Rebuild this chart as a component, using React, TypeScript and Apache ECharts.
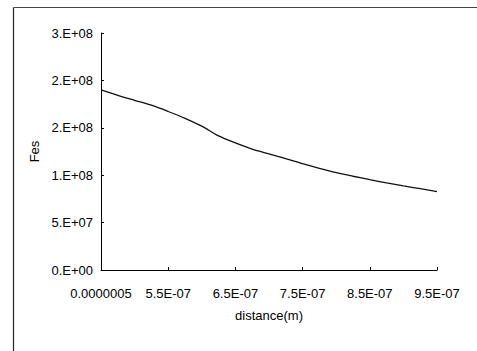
import React, { useEffect, useRef } from "react";
import * as echarts from "echarts";

const xTickLabels = ["0.0000005", "5.5E-07", "6.5E-07", "7.5E-07", "8.5E-07", "9.5E-07"];
const yTickLabels = ["0.E+00", "5.E+07", "1.E+08", "2.E+08", "2.E+08", "3.E+08"];
const yTickValues = [0, 5e7, 1e8, 1.5e8, 2e8, 2.5e8];
// Fes values sampled at 4 points per labelled interval
const fesValues = [
  1.90e8, 1.843e8, 1.79e8, 1.738e8, 1.672e8, 1.60e8, 1.517e8, 1.414e8, 1.341e8,
  1.275e8, 1.225e8, 1.176e8, 1.121e8, 1.072e8, 1.027e8, 0.989e8, 0.953e8,
  0.919e8, 0.887e8, 0.858e8, 0.826e8,
];
const pointsPerInterval = 4;

export default function App() {
  const ref = useRef<HTMLDivElement>(null);
  useEffect(() => {
    if (!ref.current) return;
    const chart = echarts.init(ref.current, undefined, { renderer: "svg" });
    const font = "Liberation Sans, Arial, sans-serif";
    const maxX = (xTickLabels.length - 1) * pointsPerInterval;
    chart.setOption({
      animation: false,
      backgroundColor: "#ffffff",
      grid: { left: 101, top: 33, right: 40, bottom: 81, containLabel: false },
      xAxis: {
        type: "value",
        min: 0,
        max: maxX,
        interval: pointsPerInterval,
        name: "distance(m)",
        nameLocation: "middle",
        nameGap: 39,
        nameTextStyle: { fontFamily: font, fontSize: 13, color: "#000" },
        axisLine: { show: true, onZero: false, lineStyle: { color: "#000", width: 1 } },
        axisTick: { show: true, inside: true, length: 3, lineStyle: { color: "#000" } },
        splitLine: { show: false },
        axisLabel: {
          fontFamily: font,
          fontSize: 13,
          color: "#000",
          margin: 17,
          formatter: (v: number) => xTickLabels[Math.round(v / pointsPerInterval)] ?? "",
        },
      },
      yAxis: {
        type: "value",
        min: 0,
        max: yTickValues[yTickValues.length - 1],
        interval: 5e7,
        name: "Fes",
        nameLocation: "middle",
        nameGap: 57,
        nameTextStyle: { fontFamily: font, fontSize: 13, color: "#000" },
        axisLine: { show: true, lineStyle: { color: "#000", width: 1 } },
        axisTick: { show: true, inside: true, length: 3, lineStyle: { color: "#000" } },
        splitLine: { show: false },
        axisLabel: {
          fontFamily: font,
          fontSize: 13,
          color: "#000",
          margin: 8,
          formatter: (v: number) => {
            const i = yTickValues.findIndex((t) => Math.abs(t - v) < 1);
            return i >= 0 ? yTickLabels[i] : "";
          },
        },
      },
      series: [
        {
          type: "line",
          data: fesValues.map((v, i) => [i, v]),
          showSymbol: false,
          smooth: 0.3,
          lineStyle: { color: "#111", width: 1.3 },
        },
      ],
      graphic: [
        { type: "line", shape: { x1: 13.5, y1: 7.5, x2: 13.5, y2: 351 }, style: { stroke: "#222", lineWidth: 1.2 } },
        { type: "line", shape: { x1: 13.5, y1: 7.5, x2: 477, y2: 7.5 }, style: { stroke: "#444", lineWidth: 1 } },
      ],
    });
    return () => chart.dispose();
  }, []);
  return (
    <div
      ref={ref}
      style={{ position: "fixed", left: 0, top: 0, width: 477, height: 351 }}
    />
  );
}
